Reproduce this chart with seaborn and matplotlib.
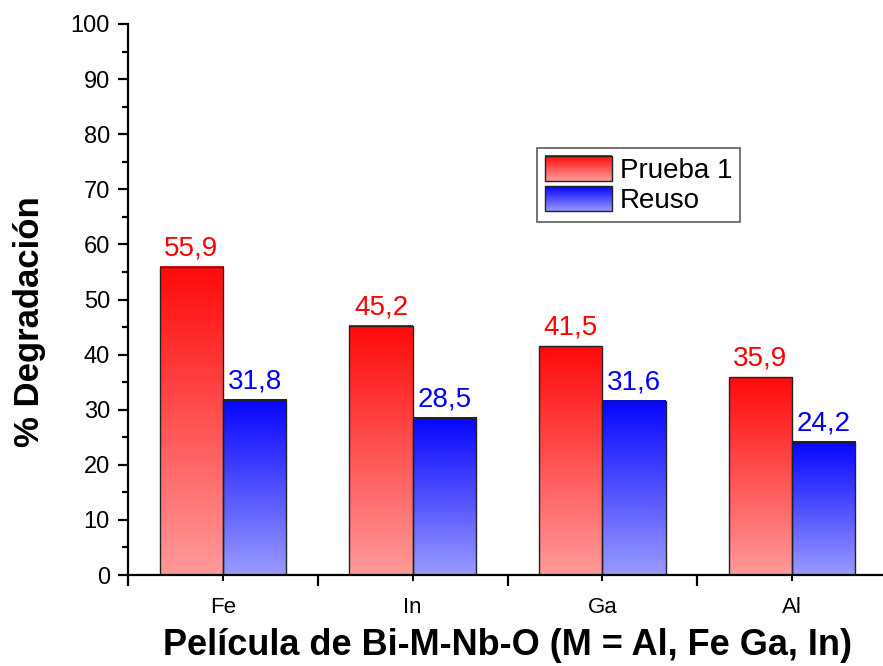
import numpy as np
import pandas as pd
import matplotlib
matplotlib.use("Agg")
import matplotlib.pyplot as plt
import seaborn as sns
from matplotlib.colors import LinearSegmentedColormap
from matplotlib.legend_handler import HandlerBase
from matplotlib.patches import Rectangle
from matplotlib.ticker import MultipleLocator, FixedLocator

# ---- data ----
metales = ["Fe", "In", "Ga", "Al"]
prueba1 = [55.9, 45.2, 41.5, 35.9]
reuso = [31.8, 28.5, 31.6, 24.2]
series = ["Prueba 1", "Reuso"]
etiquetas_p1 = ["55,9", "45,2", "41,5", "35,9"]
etiquetas_re = ["31,8", "28,5", "31,6", "24,2"]

df = pd.DataFrame({
    "metal": metales * 2,
    "valor": prueba1 + reuso,
    "serie": [series[0]] * 4 + [series[1]] * 4,
})

sns.set_style("white")
plt.rcParams["font.family"] = ["Liberation Sans", "DejaVu Sans"]
for k in ["text.color", "axes.labelcolor", "xtick.color", "ytick.color",
          "xtick.labelcolor", "ytick.labelcolor"]:
    plt.rcParams[k] = "black"

top_cols = {"Prueba 1": "#ff0a0a", "Reuso": "#0505ff"}
bot_cols = {"Prueba 1": "#ff9a9a", "Reuso": "#9a9aff"}
txt_cols = {"Prueba 1": "#ff0000", "Reuso": "#0000ff"}

fig = plt.figure(figsize=(8.83, 6.66), dpi=100)
ax = fig.add_axes([128 / 883, (666 - 575) / 666, 759 / 883, 551 / 666])

sns.barplot(data=df, x="metal", y="valor", hue="serie", order=metales,
            hue_order=series, palette=top_cols, width=0.667, ax=ax,
            legend=False, edgecolor="#222222", linewidth=1.0)

ax.set_xlim(-0.5, 3.5)
ax.set_ylim(0, 100)
ax.autoscale(False)

labels = {"Prueba 1": etiquetas_p1, "Reuso": etiquetas_re}
for cont, s in zip(ax.containers, series):
    cmap = LinearSegmentedColormap.from_list(s, [bot_cols[s], top_cols[s]])
    for bar, lab in zip(cont, labels[s]):
        x, w, h = bar.get_x(), bar.get_width(), bar.get_height()
        grad = np.linspace(0, 1, 256).reshape(-1, 1)
        ax.imshow(grad, extent=[x, x + w, 0, h], origin="lower",
                  aspect="auto", cmap=cmap, zorder=bar.get_zorder() - 0.1,
                  interpolation="bilinear")
        bar.set_facecolor("none")
        ax.text(x + w / 2, h + 1.0, lab, ha="center", va="bottom",
                fontsize=20, color=txt_cols[s])

ax.set_xlim(-0.5, 3.5)
ax.set_ylim(0, 100)

# spines
for sp in ["top", "right"]:
    ax.spines[sp].set_visible(False)
for sp in ["left", "bottom"]:
    ax.spines[sp].set_linewidth(1.6)
    ax.spines[sp].set_color("black")

# ticks
ax.yaxis.set_major_locator(MultipleLocator(10))
ax.yaxis.set_minor_locator(MultipleLocator(5))
ax.tick_params(axis="y", which="major", direction="out", length=7, width=1.6,
               labelsize=17, pad=6, left=True)
ax.tick_params(axis="y", which="minor", direction="out", length=4, width=1.6, left=True)
ax.xaxis.set_minor_locator(FixedLocator([-0.5, 0.5, 1.5, 2.5, 3.5]))
ax.tick_params(axis="x", which="major", direction="out", length=4, width=1.4,
               labelsize=16, pad=12, bottom=True)
ax.tick_params(axis="x", which="minor", direction="out", length=8, width=1.6, bottom=True)

ax.set_xlabel("Película de Bi-M-Nb-O (M = Al, Fe Ga, In)", fontsize=26,
              fontweight="bold")
ax.set_ylabel("% Degradación", fontsize=25, fontweight="bold")
ax.xaxis.set_label_coords(0.50, -0.097)
ax.yaxis.set_label_coords(-0.108, 0.46)


class GradHandler(HandlerBase):
    def __init__(self, c_top, c_bot):
        super().__init__()
        self.c_top, self.c_bot = c_top, c_bot

    def create_artists(self, legend, orig_handle, xdescent, ydescent, width,
                       height, fontsize, trans):
        arts = []
        n = 30
        top = np.array(matplotlib.colors.to_rgb(self.c_top))
        bot = np.array(matplotlib.colors.to_rgb(self.c_bot))
        for i in range(n):
            f = (i + 0.5) / n
            col = bot + (top - bot) * f
            r = Rectangle((-xdescent, -ydescent + height * i / n), width,
                          height / n + 0.3, facecolor=col, edgecolor="none",
                          transform=trans)
            arts.append(r)
        edge = Rectangle((-xdescent, -ydescent), width, height,
                         facecolor="none", edgecolor="#222222", linewidth=1.0,
                         transform=trans)
        arts.append(edge)
        return arts


h1 = Rectangle((0, 0), 1, 1)
h2 = Rectangle((0, 0), 1, 1)
leg = ax.legend([h1, h2], series,
                handler_map={h1: GradHandler(top_cols["Prueba 1"], bot_cols["Prueba 1"]),
                             h2: GradHandler(top_cols["Reuso"], bot_cols["Reuso"])},
                loc="upper left", bbox_to_anchor=(0.539, 0.775), fontsize=20,
                frameon=True, fancybox=False, edgecolor="#333333",
                handlelength=2.4, handleheight=1.0, handletextpad=0.3,
                labelspacing=0.1, borderpad=0.28, borderaxespad=0)
leg.get_frame().set_linewidth(1.2)

fig.savefig("out.png", dpi=100)
